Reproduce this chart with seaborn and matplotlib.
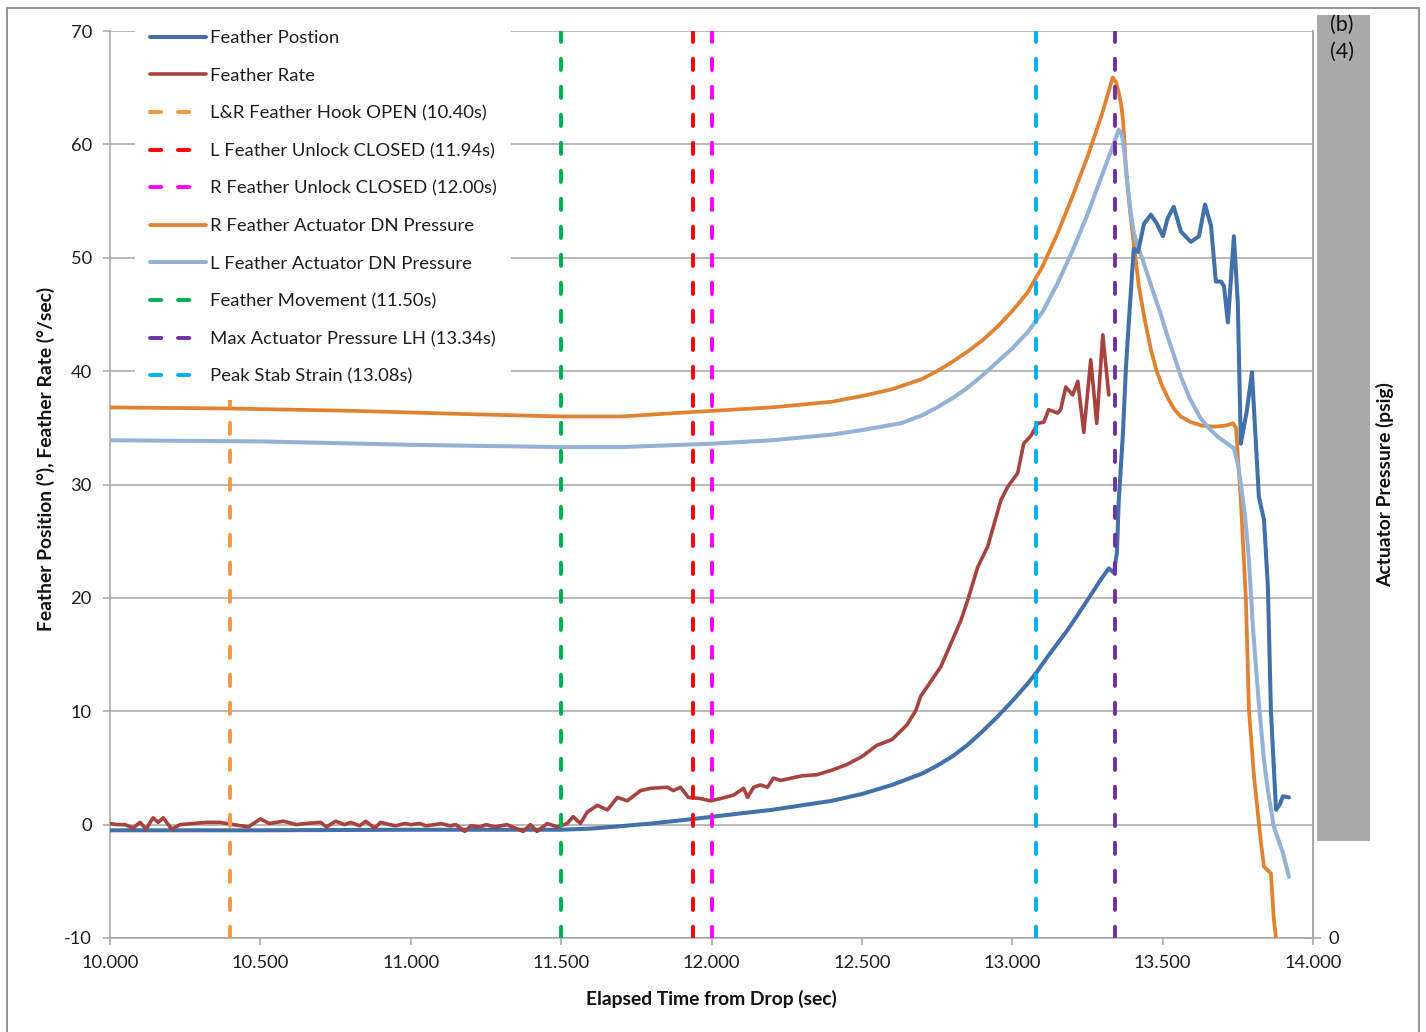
import numpy as np
import pandas as pd
import matplotlib
matplotlib.use("Agg")
import matplotlib.pyplot as plt
from matplotlib.patches import Rectangle
import seaborn as sns

# ---------------- data ----------------
pos_t = [10.0, 10.5, 11.0, 11.5, 11.6, 11.67, 11.8, 11.94, 12.1, 12.2, 12.3, 12.4, 12.5, 12.6, 12.7,
         12.75, 12.8, 12.85, 12.9, 12.95, 13.0, 13.05, 13.08, 13.12, 13.185, 13.25, 13.294, 13.321, 13.338,
         13.348, 13.354, 13.368, 13.378, 13.388, 13.404, 13.418, 13.438, 13.461, 13.481, 13.501, 13.517,
         13.537, 13.561, 13.594, 13.621, 13.641, 13.661, 13.677, 13.694, 13.704, 13.717, 13.737, 13.75,
         13.76, 13.78, 13.797, 13.82, 13.837, 13.85, 13.86, 13.877, 13.89, 13.9, 13.92]
pos_v = [-0.5, -0.5, -0.45, -0.45, -0.35, -0.2, 0.1, 0.5, 1.0, 1.3, 1.7, 2.1, 2.7, 3.5, 4.5,
         5.2, 6.0, 7.0, 8.2, 9.5, 10.9, 12.4, 13.4, 14.9, 17.2, 19.8, 21.6, 22.6, 22.2,
         24.0, 28.5, 34.5, 40.3, 44.5, 50.8, 50.5, 53.0, 53.8, 53.0, 51.9, 53.5,
         54.5, 52.3, 51.4, 51.9, 54.7, 52.8, 47.9, 47.9, 47.5, 44.3, 51.9, 46.0,
         33.6, 36.5, 39.9, 28.9, 26.9, 21.0, 10.1, 1.3, 1.8, 2.5, 2.4]

rate_t = [10.0, 10.025, 10.05, 10.077, 10.1, 10.12, 10.143, 10.16, 10.177, 10.205, 10.233, 10.277, 10.32,
          10.366, 10.41, 10.46, 10.5, 10.53, 10.577, 10.62, 10.65, 10.7, 10.72, 10.75, 10.78, 10.8, 10.83,
          10.85, 10.88, 10.9, 10.93, 10.95, 10.98, 11.0, 11.03, 11.05, 11.08, 11.1, 11.13, 11.15, 11.18,
          11.2, 11.231, 11.25, 11.28, 11.32, 11.374, 11.398, 11.42, 11.454, 11.487, 11.52, 11.54, 11.564,
          11.587, 11.62, 11.654, 11.687, 11.72, 11.764, 11.797, 11.853, 11.873, 11.897, 11.923, 11.963,
          11.997, 12.03, 12.073, 12.107, 12.12, 12.14, 12.163, 12.186, 12.206, 12.23, 12.3, 12.35, 12.4,
          12.45, 12.5, 12.55, 12.6, 12.65, 12.68, 12.695, 12.762, 12.829, 12.852, 12.885, 12.918, 12.962,
          12.985, 13.018, 13.038, 13.062, 13.085, 13.105, 13.121, 13.151, 13.161, 13.178, 13.201, 13.218,
          13.238, 13.261, 13.281, 13.301, 13.321]
rate_v = [0.1, 0.0, 0.0, -0.3, 0.2, -0.4, 0.6, 0.2, 0.6, -0.4, 0.0, 0.1, 0.2,
          0.2, 0.0, -0.2, 0.5, 0.1, 0.3, 0.0, 0.1, 0.2, -0.2, 0.3, 0.0, 0.2, -0.1,
          0.3, -0.3, 0.2, 0.0, -0.1, 0.1, 0.0, 0.1, -0.1, 0.0, 0.1, -0.1, 0.0, -0.6,
          -0.1, -0.2, 0.0, -0.2, 0.0, -0.6, 0.0, -0.6, 0.1, -0.2, 0.1, 0.7, 0.1,
          1.1, 1.7, 1.3, 2.4, 2.1, 3.0, 3.2, 3.3, 3.0, 3.3, 2.4, 2.3,
          2.1, 2.3, 2.6, 3.2, 2.4, 3.3, 3.5, 3.3, 4.1, 3.9, 4.3, 4.4, 4.8,
          5.3, 6.0, 7.0, 7.5, 8.8, 10.1, 11.3, 13.9, 18.0, 19.8, 22.7, 24.5, 28.6,
          29.8, 31.0, 33.6, 34.3, 35.4, 35.5, 36.6, 36.3, 36.6, 38.6, 37.9, 39.1,
          34.6, 41.0, 35.4, 43.2, 37.9]

rpress_t = [10.0, 10.4, 10.8, 11.2, 11.5, 11.7, 11.94, 12.2, 12.4, 12.5, 12.6, 12.7, 12.75, 12.8, 12.85,
            12.9, 12.95, 13.0, 13.05, 13.1, 13.15, 13.2, 13.25, 13.3, 13.334, 13.345, 13.354, 13.362,
            13.368, 13.373, 13.378, 13.39, 13.401, 13.421, 13.44, 13.461, 13.48, 13.5, 13.52, 13.537,
            13.56, 13.594, 13.63, 13.671, 13.71, 13.734, 13.744, 13.76, 13.777, 13.787, 13.804, 13.827,
            13.837, 13.86, 13.87, 13.877, 13.885]
rpress_v = [36.8, 36.7, 36.5, 36.2, 36.0, 36.0, 36.4, 36.8, 37.3, 37.8, 38.4, 39.3, 40.0, 40.8, 41.7,
            42.7, 43.9, 45.3, 46.9, 49.2, 52.1, 55.4, 58.9, 62.8, 65.9, 65.5, 64.6, 63.5,
            62.2, 60.2, 57.8, 54.5, 51.9, 47.5, 44.6, 41.9, 40.0, 38.6, 37.5, 36.7,
            36.0, 35.5, 35.2, 35.1, 35.2, 35.4, 35.0, 28.6, 19.8, 10.1, 4.2, -1.6,
            -3.7, -4.3, -8.4, -10.0, -12.0]

lpress_t = [10.0, 10.5, 11.0, 11.5, 11.7, 12.0, 12.2, 12.4, 12.5, 12.63, 12.7, 12.75, 12.8, 12.85,
            12.9, 12.95, 13.0, 13.05, 13.1, 13.15, 13.2, 13.25, 13.3, 13.338, 13.354, 13.362, 13.368,
            13.376, 13.384, 13.394, 13.404, 13.42, 13.434, 13.461, 13.494, 13.517, 13.54, 13.561, 13.59,
            13.627, 13.66, 13.684, 13.71, 13.737, 13.75, 13.76, 13.775, 13.787, 13.8, 13.817, 13.837,
            13.85, 13.87, 13.9, 13.92]
lpress_v = [33.9, 33.8, 33.5, 33.3, 33.3, 33.6, 33.9, 34.4, 34.8, 35.4, 36.1, 36.8, 37.6, 38.5,
            39.6, 40.8, 42.0, 43.4, 45.2, 47.7, 50.6, 53.8, 57.4, 60.1, 61.3, 61.0, 60.4,
            58.5, 56.3, 54.0, 52.2, 50.8, 49.8, 47.6, 45.0, 43.0, 41.2, 39.5, 37.6,
            35.8, 34.8, 34.2, 33.7, 33.2, 31.8, 30.1, 27.0, 23.3, 17.5, 11.6, 5.7,
            3.0, -0.2, -2.5, -4.6]

event_labels = ["L&R Feather Hook OPEN (10.40s)", "L Feather Unlock CLOSED (11.94s)",
                "R Feather Unlock CLOSED (12.00s)", "Feather Movement (11.50s)",
                "Max Actuator Pressure LH (13.34s)", "Peak Stab Strain (13.08s)"]
event_times = [10.40, 11.94, 12.00, 11.50, 13.34, 13.08]
event_colors = ["#F9963F", "#FF0000", "#FF00FF", "#00B050", "#7030A0", "#00B0F0"]

xticks = [10.0, 10.5, 11.0, 11.5, 12.0, 12.5, 13.0, 13.5, 14.0]
yticks = [-10, 0, 10, 20, 30, 40, 50, 60, 70]

# ---------------- style ----------------
sns.set_style("white")
plt.rcParams['font.family'] = ['Lato', 'DejaVu Sans']

W, H = 1426, 1032
fig = plt.figure(figsize=(W / 100, H / 100), dpi=100)
ax = fig.add_axes([110 / W, 1 - 938 / H, 1203 / W, 907 / H])

GRID = "#A6A6A6"
TXT = "#1E1E1E"
TICKFS = 13.2
LABFS = 13.9

series = [
    ("Feather Postion", pos_t, pos_v, "#4170AA", 2.9, 4),
    ("Feather Rate", rate_t, rate_v, "#A8423F", 2.6, 5),
]
for lab, t, v, c, lw, z in series:
    sns.lineplot(x=t, y=v, ax=ax, color=c, linewidth=lw, label=lab, zorder=z,
                 solid_joinstyle="round", solid_capstyle="round", sort=False)

def vline(i, z):
    ax.axvline(event_times[i], color=event_colors[i], lw=2.8, linestyle=(0, (2.9, 4.3)),
               dash_capstyle="round", label=event_labels[i], zorder=z)

vline(0, 6)
vline(1, 6)
vline(2, 6)
sns.lineplot(x=rpress_t, y=rpress_v, ax=ax, color="#E2812F", linewidth=2.7,
             label="R Feather Actuator DN Pressure", zorder=3, sort=False,
             solid_joinstyle="round", solid_capstyle="round")
sns.lineplot(x=lpress_t, y=lpress_v, ax=ax, color="#94B1D6", linewidth=2.9,
             label="L Feather Actuator DN Pressure", zorder=3.5, sort=False,
             solid_joinstyle="round", solid_capstyle="round")
vline(3, 6)
vline(4, 6)
vline(5, 6)

ax.set_xlim(10, 14)
ax.set_ylim(-10, 70)
ax.set_xticks(xticks)
ax.set_xticklabels([f"{x:.3f}" for x in xticks])
ax.set_yticks(yticks)
ax.set_yticklabels([str(y) for y in yticks])
ax.set_axisbelow(True)
ax.yaxis.grid(True, color=GRID, lw=1.1)
ax.xaxis.grid(False)
for s in ["left", "bottom", "right"]:
    ax.spines[s].set_color(GRID)
    ax.spines[s].set_linewidth(1.1)
ax.spines["top"].set_visible(False)
ax.tick_params(axis="both", colors=GRID, labelcolor=TXT, labelsize=TICKFS, length=5, width=1.1,
               direction="out")
ax.tick_params(axis="y", left=True, pad=8)
ax.tick_params(axis="x", bottom=True, pad=7)

ax.set_xlabel("Elapsed Time from Drop (sec)", fontsize=LABFS, fontweight="bold", color="#111111")
ax.xaxis.set_label_coords(0.5, -0.057)
ax.set_ylabel("Feather Position (°), Feather Rate (°/sec)", fontsize=LABFS, fontweight="bold",
              color="#111111")
ax.yaxis.set_label_coords(-0.046, 0.528)

# secondary axis
ax2 = ax.twinx()
ax2.set_ylim(0, 80)
ax2.set_yticks([0])
ax2.set_yticklabels(["0"])
for s in ["left", "top", "bottom"]:
    ax2.spines[s].set_visible(False)
ax2.spines["right"].set_color(GRID)
ax2.spines["right"].set_linewidth(1.1)
ax2.tick_params(axis="y", colors=GRID, labelcolor=TXT, labelsize=TICKFS, direction="inout",
                length=11, width=1.1, pad=6)
ax2.set_ylabel("Actuator Pressure (psig)", fontsize=LABFS, fontweight="bold", color="#111111",
               rotation=90)
ax2.yaxis.set_label_coords(1.052, 0.5)

# legend
h, l = ax.get_legend_handles_labels()
order = ["Feather Postion", "Feather Rate", event_labels[0], event_labels[1], event_labels[2],
         "R Feather Actuator DN Pressure", "L Feather Actuator DN Pressure",
         event_labels[3], event_labels[4], event_labels[5]]
hd = dict(zip(l, h))
leg = ax.legend([hd[k] for k in order], order, loc="upper left", bbox_to_anchor=(0.0208, 1.017),
                frameon=True, facecolor="white", edgecolor="none", framealpha=1, fancybox=False,
                fontsize=13.3, handlelength=3.03, handletextpad=0.22, labelspacing=1.165,
                borderpad=0.8, borderaxespad=0)
for txt in leg.get_texts():
    txt.set_color(TXT)
leg.set_zorder(20)

# redaction box and marks
fig.add_artist(Rectangle((1317 / W, 1 - 841 / H), 53 / W, (841 - 15) / H, transform=fig.transFigure,
                         facecolor="#A9A9A9", edgecolor="none", zorder=10))
fig.text(1330 / W, 1 - 25 / H, "(b)", fontsize=15.5, color="#111111", va="center", ha="left", zorder=11)
fig.text(1330 / W, 1 - 52 / H, "(4)", fontsize=15.5, color="#111111", va="center", ha="left", zorder=11)

# outer chart border
fig.add_artist(Rectangle((7 / W, -0.02), (1419 - 7) / W, (H - 8) / H + 0.02, transform=fig.transFigure,
                         fill=False, edgecolor="#8C8C8C", lw=1.3, zorder=12))

fig.savefig("out.png", dpi=100)
